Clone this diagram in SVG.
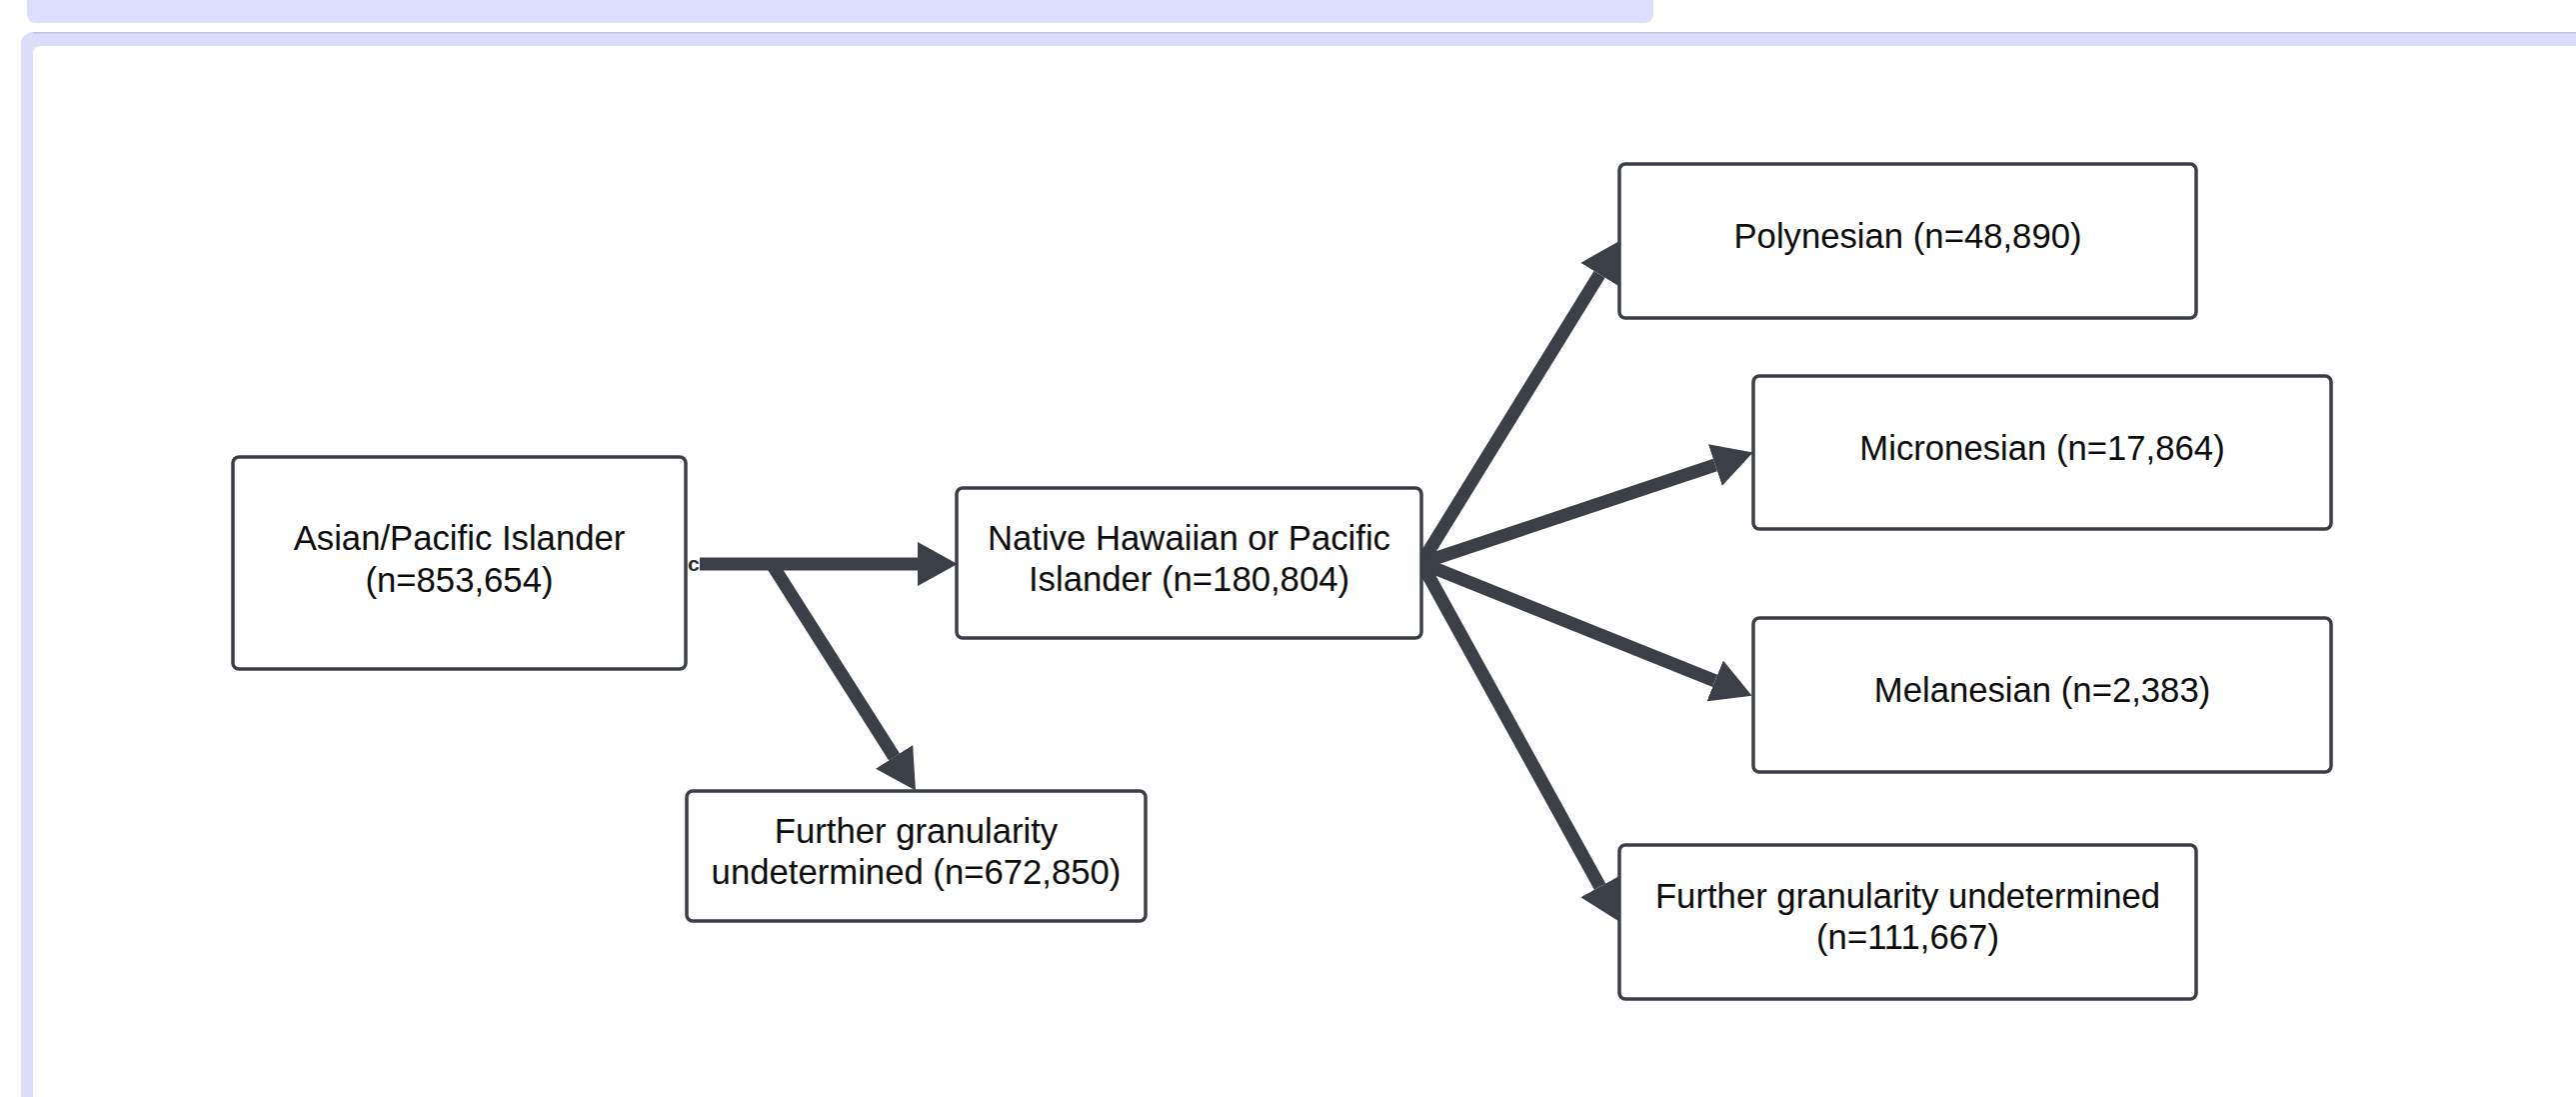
<svg xmlns="http://www.w3.org/2000/svg" width="2577" height="1097" viewBox="0 0 2577 1097">
  <style>
    .box { fill: #ffffff; stroke: #3a3f47; stroke-width: 3.5; }
    .lbl { font-family: "Liberation Sans", Arial, sans-serif; font-size: 34.7px; fill: #0d0d0d; text-anchor: middle; }
    .conn { stroke: #3a3f48; stroke-width: 13; fill: none; }
    .tiny { font-family: "Liberation Sans", Arial, sans-serif; font-size: 21px; font-weight: bold; fill: #2a2e35; }
  </style>
  <defs>
    <marker id="head" markerUnits="userSpaceOnUse" markerWidth="40" markerHeight="44" refX="0" refY="21" orient="auto" viewBox="0 0 38 42">
      <path d="M0,0 L38,21 L0,42 Z" fill="#3a3f48"/>
    </marker>
  </defs>

  <!-- background frame -->
  <rect x="0" y="0" width="2577" height="1097" fill="#ffffff"/>
  <path d="M27,-10 H1654 V13 Q1654,23 1644,23 H37 Q27,23 27,13 Z" fill="#dddefc"/>
  <rect x="21" y="32" width="2620" height="1120" rx="12" fill="#dcdcfb"/>
  <path d="M33,32.7 H2577" stroke="#c3c3dc" stroke-width="1.6" fill="none"/>
  <rect x="33" y="46" width="2620" height="1120" rx="7" fill="#ffffff"/>

  <!-- connectors -->
  <g id="connectors">
    <line class="conn" x1="700" y1="564" x2="918" y2="564" marker-end="url(#head)"/>
    <line class="conn" x1="772" y1="564" x2="894.6" y2="756.9" marker-end="url(#head)"/>
    <line class="conn" x1="1422" y1="563" x2="1600.1" y2="274.3" marker-end="url(#head)"/>
    <line class="conn" x1="1422" y1="563" x2="1715.9" y2="465.0" marker-end="url(#head)"/>
    <line class="conn" x1="1422" y1="563" x2="1715.7" y2="680.9" marker-end="url(#head)"/>
    <line class="conn" x1="1422" y1="563" x2="1600.6" y2="886.7" marker-end="url(#head)"/>
    <text class="tiny" x="688" y="571">c</text>
  </g>

  <!-- nodes -->
  <g id="node-asian">
    <rect class="box" x="233" y="457" width="453" height="212" rx="6"/>
    <text class="lbl" x="459.5" y="550">Asian/Pacific Islander</text>
    <text class="lbl" x="459.5" y="592">(n=853,654)</text>
  </g>
  <g id="node-nhpi">
    <rect class="box" x="957" y="488" width="465" height="150" rx="6"/>
    <text class="lbl" x="1189.5" y="550">Native Hawaiian or Pacific</text>
    <text class="lbl" x="1189.5" y="591">Islander (n=180,804)</text>
  </g>
  <g id="node-further-left">
    <rect class="box" x="687" y="791" width="459" height="130" rx="6"/>
    <text class="lbl" x="916.5" y="843">Further granularity</text>
    <text class="lbl" x="916.5" y="884">undetermined (n=672,850)</text>
  </g>
  <g id="node-polynesian">
    <rect class="box" x="1620" y="164" width="577" height="154" rx="6"/>
    <text class="lbl" x="1908.5" y="248">Polynesian (n=48,890)</text>
  </g>
  <g id="node-micronesian">
    <rect class="box" x="1754" y="376" width="578" height="153" rx="6"/>
    <text class="lbl" x="2043" y="460">Micronesian (n=17,864)</text>
  </g>
  <g id="node-melanesian">
    <rect class="box" x="1754" y="618" width="578" height="154" rx="6"/>
    <text class="lbl" x="2043" y="702">Melanesian (n=2,383)</text>
  </g>
  <g id="node-further-right">
    <rect class="box" x="1620" y="845" width="577" height="154" rx="6"/>
    <text class="lbl" x="1908.5" y="908">Further granularity undetermined</text>
    <text class="lbl" x="1908.5" y="949">(n=111,667)</text>
  </g>
</svg>
